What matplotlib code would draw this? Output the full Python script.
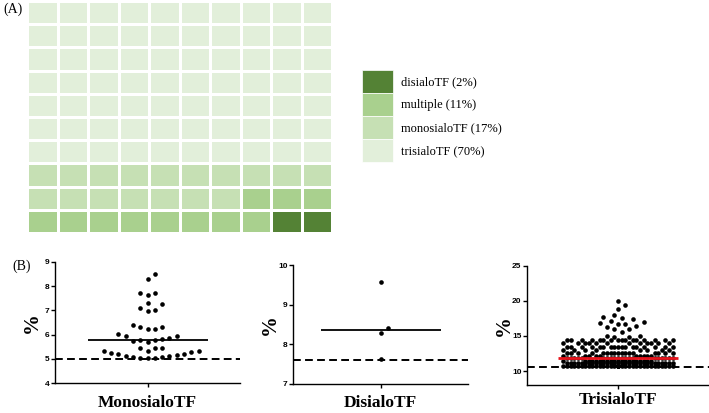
import numpy as np
import matplotlib
matplotlib.use("Agg")
import matplotlib.pyplot as plt
from matplotlib.colors import ListedColormap
from matplotlib.patches import Patch

# ---------------- data ----------------
waffle_labels = ["disialoTF (2%)", "multiple (11%)", "monosialoTF (17%)", "trisialoTF (70%)"]
waffle_counts = [2, 11, 17, 70]
waffle_colors = ["#548235", "#A9D08E", "#C6E0B4", "#E2EFDA"]

mono_values = [8.49, 8.29, 7.70, 7.63, 7.73, 7.25, 7.31, 7.08, 7.01, 6.97,
               6.33, 6.25, 6.25, 6.30, 6.40, 5.96, 5.96, 6.01, 5.88,
               5.81, 5.74, 5.71, 5.78, 5.78, 5.44, 5.44, 5.34, 5.44,
               5.32, 5.25, 5.19, 5.11, 5.08, 5.05, 5.03, 5.03, 5.08,
               5.10, 5.15, 5.19, 5.29, 5.32]
di_values = [9.57, 8.42, 8.28, 7.63]
tri_cluster = [20.0, 19.4, 18.8, 18.05, 17.65, 17.55, 17.45, 17.1, 17.0,
               16.8, 16.75, 16.75, 16.4, 16.3, 15.95, 15.95, 15.55,
               15.0, 15.0, 14.9, 14.85]
tri_band_levels = [14.45, 13.95, 13.5, 13.05, 12.6, 12.2, 11.85, 11.45, 11.1, 10.75]
tri_band_counts = [16, 12, 17, 8, 17, 10, 20, 20, 30, 35]

thresholds = {"MonosialoTF": 5.0, "DisialoTF": 7.6, "TrisialoTF": 10.6}
panel_names = ["MonosialoTF", "DisialoTF", "TrisialoTF"]
ylims = [(4, 9), (7, 10), (8, 25)]
yticks = [[4, 5, 6, 7, 8, 9], [7, 8, 9, 10], [10, 15, 20, 25]]

tri_values = list(tri_cluster) + list(np.repeat(tri_band_levels, tri_band_counts))
panel_values = [mono_values, di_values, tri_values]
median_colors = ["black", "black", "#E8141C"]

# ---------------- figure ----------------
W, H = 709, 413
fig = plt.figure(figsize=(W / 100, H / 100), dpi=100)


def fax(l, t, r, b):
    return fig.add_axes([l / W, 1 - b / H, (r - l) / W, (b - t) / H])


serif = "Liberation Serif"
sans = "Liberation Sans"

# ---- (A) waffle ----
axw = fax(27, 1, 332, 233)
cats = np.repeat(np.arange(len(waffle_counts)), waffle_counts)
grid = np.zeros((10, 10))
for k, c in enumerate(cats):
    grid[k // 10, 9 - k % 10] = c
axw.pcolormesh(grid, cmap=ListedColormap(waffle_colors), vmin=-0.5,
               vmax=len(waffle_colors) - 0.5, edgecolors="white", linewidth=1.0)
axw.set_xlim(0, 10)
axw.set_ylim(0, 10)
axw.axis("off")

handles = [Patch(facecolor=c, edgecolor="white", linewidth=0.5) for c in waffle_colors]
fig.legend(handles, waffle_labels, loc="upper left",
           bbox_to_anchor=(362 / W, 1 - 70 / H), frameon=False,
           prop={"family": serif, "size": 9}, handlelength=2.48,
           handleheight=2.45, labelspacing=0.0, handletextpad=0.65,
           borderpad=0, borderaxespad=0)

fig.text(3 / W, 1 - 9 / H, "(A)", family=serif, fontsize=10, va="center", ha="left")
fig.text(12 / W, 1 - 266 / H, "(B)", family=serif, fontsize=10, va="center", ha="left")


# ---- (B) swarm plots ----
def swarm(vals, ppu, step=7.3, hmin=6.8, vmin=7.3, maxhalf=200, euclid=False):
    vals = np.asarray(vals, float)
    order = np.argsort(vals, kind="stable")
    ys = vals * ppu
    kmax = int(maxhalf / (step / 2))
    cands = [0.0]
    for k in range(1, kmax + 1):
        cands += [k * step / 2, -k * step / 2]
    px, py = [], []
    out = np.zeros(len(vals))
    for i in order:
        y = ys[i]
        pxa, pya = np.array(px), np.array(py)
        if len(pxa):
            near = np.abs(pya - y) < vmin
            pxa, pya = pxa[near], pya[near]
        best, bestd = None, -1
        for c in cands:
            if len(pxa) == 0:
                d = np.inf
            elif euclid:
                d = np.min(np.hypot(pxa - c, pya - y))
            else:
                d = np.min(np.abs(pxa - c))
            if d >= hmin:
                best = c
                break
            if d > bestd:
                bestd, bestc = d, c
        if best is None:
            best = bestc
        out[i] = best
        px.append(best)
        py.append(y)
    return out


boxes = [(55, 262, 240, 383), (293, 265, 468, 384), (527, 266, 709, 385)]
maxhalf = [200, 200, 58]
hmins = [6.8, 6.8, 6.3]
vmins = [7.3, 7.3, 6.3]
euclids = [False, False, True]
title_off = [20, 19, 15]
for i, name in enumerate(panel_names):
    l, t, r, b = boxes[i]
    ax = fax(l, t, r, b)
    half = (r - l) / 2
    ax.set_xlim(-half, half)
    ax.set_ylim(*ylims[i])
    ppu = (b - t) / (ylims[i][1] - ylims[i][0])
    vals = np.asarray(panel_values[i], float)
    xs = swarm(vals, ppu, hmin=hmins[i], vmin=vmins[i], maxhalf=maxhalf[i],
               euclid=euclids[i])
    ax.scatter(xs, vals, s=11, color="black", linewidths=0, zorder=3)
    ax.hlines(np.median(vals), -60, 60, color=median_colors[i],
              linewidth=1.3 if i < 2 else 2.0, zorder=4)
    ax.axhline(thresholds[name], color="black", linewidth=1.4,
               linestyle=(0, (4, 2.2)), zorder=2)
    for s in ["top", "right"]:
        ax.spines[s].set_visible(False)
    for s in ["left", "bottom"]:
        ax.spines[s].set_linewidth(1.0)
    ax.set_yticks(yticks[i])
    ax.set_yticklabels([str(v) for v in yticks[i]], family=sans,
                       fontweight="bold", fontsize=6)
    ax.set_xticks([0])
    ax.set_xticklabels([""])
    ax.tick_params(axis="both", length=3, width=1, pad=1)
    ax.text(-23 / (r - l), 0.5, "%", rotation=90, transform=ax.transAxes,
            family=serif, fontweight="bold", fontsize=15, ha="center", va="center")
    ax.text(0.5, -title_off[i] / (b - t), name, transform=ax.transAxes, family=serif,
            fontweight="bold", fontsize=12.5, ha="center", va="center")

fig.savefig("out.png", dpi=100)
